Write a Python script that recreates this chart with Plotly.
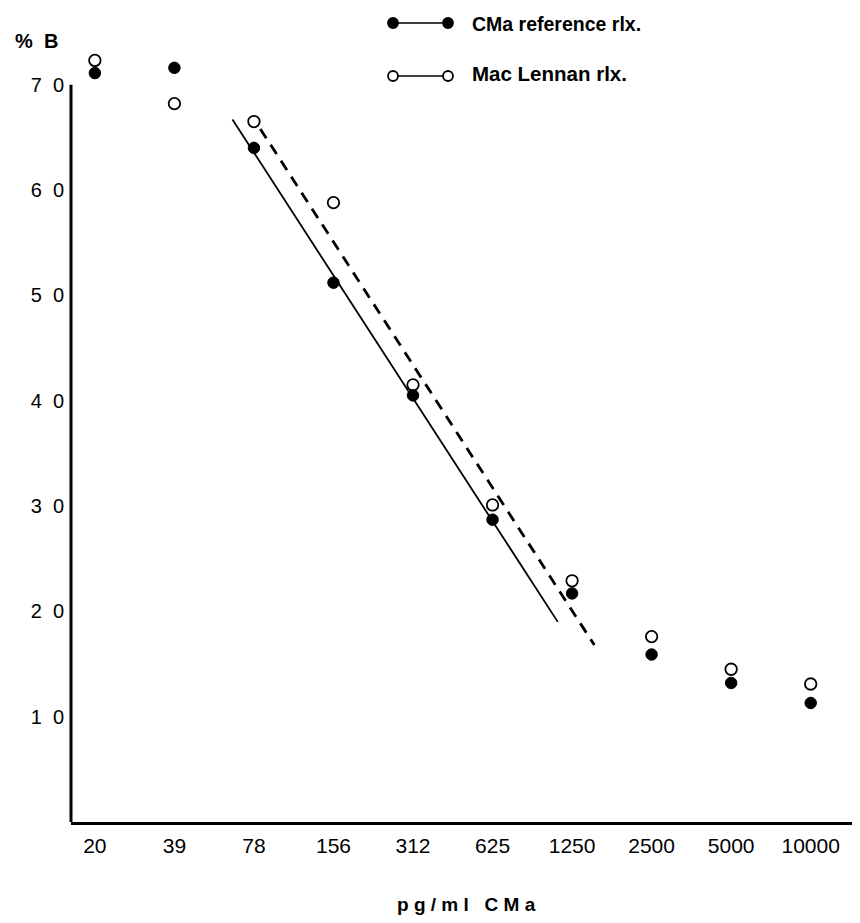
import plotly.graph_objects as go

concentrations = ["20", "39", "78", "156", "312", "625", "1250", "2500", "5000", "10000"]
cma_reference = [71.1, 71.6, 64.0, 51.2, 40.5, 28.7, 21.7, 15.9, 13.2, 11.3]
mac_lennan = [72.3, 68.2, 66.5, 58.8, 41.5, 30.1, 22.9, 17.6, 14.5, 13.1]
y_ticks = [10, 20, 30, 40, 50, 60, 70]
y_tick_labels = ["1\u00a0\u00a00", "2\u00a0\u00a00", "3\u00a0\u00a00", "4\u00a0\u00a00",
                 "5\u00a0\u00a00", "6\u00a0\u00a00", "7\u00a0\u00a00"]
# hand-drawn regression lines (x in concentration-step units, 0 = 20 pg/ml)
cma_line_x = [1.73, 5.82]
cma_line_y = [66.7, 19.0]
mac_line_x = [2.08, 6.28]
mac_line_y = [65.8, 16.8]

xpos = list(range(len(concentrations)))

fig = go.Figure()
fig.add_trace(go.Scatter(x=cma_line_x, y=cma_line_y, mode="lines",
                         line=dict(color="black", width=1.8), showlegend=False))
fig.add_trace(go.Scatter(x=mac_line_x, y=mac_line_y, mode="lines",
                         line=dict(color="black", width=2.8, dash="11px,8px"), showlegend=False))
fig.add_trace(go.Scatter(x=xpos, y=mac_lennan, mode="markers",
                         marker=dict(symbol="circle", size=11.5, color="white", line=dict(color="black", width=1.8)),
                         showlegend=False))
fig.add_trace(go.Scatter(x=xpos, y=cma_reference, mode="markers",
                         marker=dict(symbol="circle", size=11.5, color="black", line=dict(color="black", width=1)),
                         showlegend=False))

OFF = 8  # page body margin
L, R, T, B = 63, 0, 24, 101
W, H = 852, 915
pw, ph = W - L - R, H - T - B

def px(xp):
    return (xp - OFF - L) / pw

def py(yp):
    return (H + OFF - B - yp) / ph

shapes = [
    dict(type="line", xref="paper", yref="y", x0=0, x1=0, y0=0, y1=70, line=dict(color="black", width=3)),
]
legend_rows = [(23, 24, "black", "CMa reference rlx.", 19.5), (76, 73, "white", "Mac Lennan rlx.", 20.5)]
annotations = []
for yc, yt, fill, label, fs in legend_rows:
    shapes.append(dict(type="line", xref="paper", yref="paper", x0=px(393), x1=px(448), y0=py(yc), y1=py(yc),
                       line=dict(color="black", width=1.5)))
    for xc in (393, 448):
        shapes.append(dict(type="circle", xref="paper", yref="paper", xsizemode="pixel", ysizemode="pixel",
                           xanchor=px(xc), yanchor=py(yc), x0=-5, x1=5, y0=-5, y1=5,
                           fillcolor=fill, line=dict(color="black", width=1.8)))
    annotations.append(dict(xref="paper", yref="paper", x=px(470), y=py(yt), xanchor="left", yanchor="middle",
                            text="<b>" + label + "</b>", showarrow=False,
                            font=dict(family="Liberation Sans, Arial", size=fs, color="black")))

annotations.append(dict(xref="paper", yref="paper", x=px(13), y=py(41), xanchor="left", yanchor="middle",
                        text="<b>%\u00a0\u00a0B</b>", showarrow=False,
                        font=dict(family="Liberation Sans, Arial", size=20, color="black")))
annotations.append(dict(xref="paper", yref="paper", x=px(466), y=py(904), xanchor="center", yanchor="middle",
                        text="<b>p\u00a0g\u00a0/\u00a0m\u00a0l\u00a0\u00a0\u00a0C\u00a0M\u00a0a</b>", showarrow=False,
                        font=dict(family="Liberation Sans, Arial", size=19, color="black")))

fig.update_layout(
    width=W, height=H,
    margin=dict(l=L, r=R, t=T, b=B),
    paper_bgcolor="white", plot_bgcolor="white",
    shapes=shapes, annotations=annotations,
    xaxis=dict(range=[-0.3, 9.62], tickmode="array", tickvals=xpos, ticktext=concentrations,
               showgrid=False, zeroline=False, showline=True, linecolor="black", linewidth=3,
               ticks="", ticklabelstandoff=3,
               tickfont=dict(family="Liberation Sans, Arial", size=21, color="black")),
    yaxis=dict(range=[0, 75], tickmode="array", tickvals=y_ticks, ticktext=y_tick_labels,
               showgrid=False, zeroline=False, showline=False, ticks="", ticklabelstandoff=6,
               tickfont=dict(family="Liberation Sans, Arial", size=20, color="black")),
    showlegend=False,
)

fig.write_html("out.html")
